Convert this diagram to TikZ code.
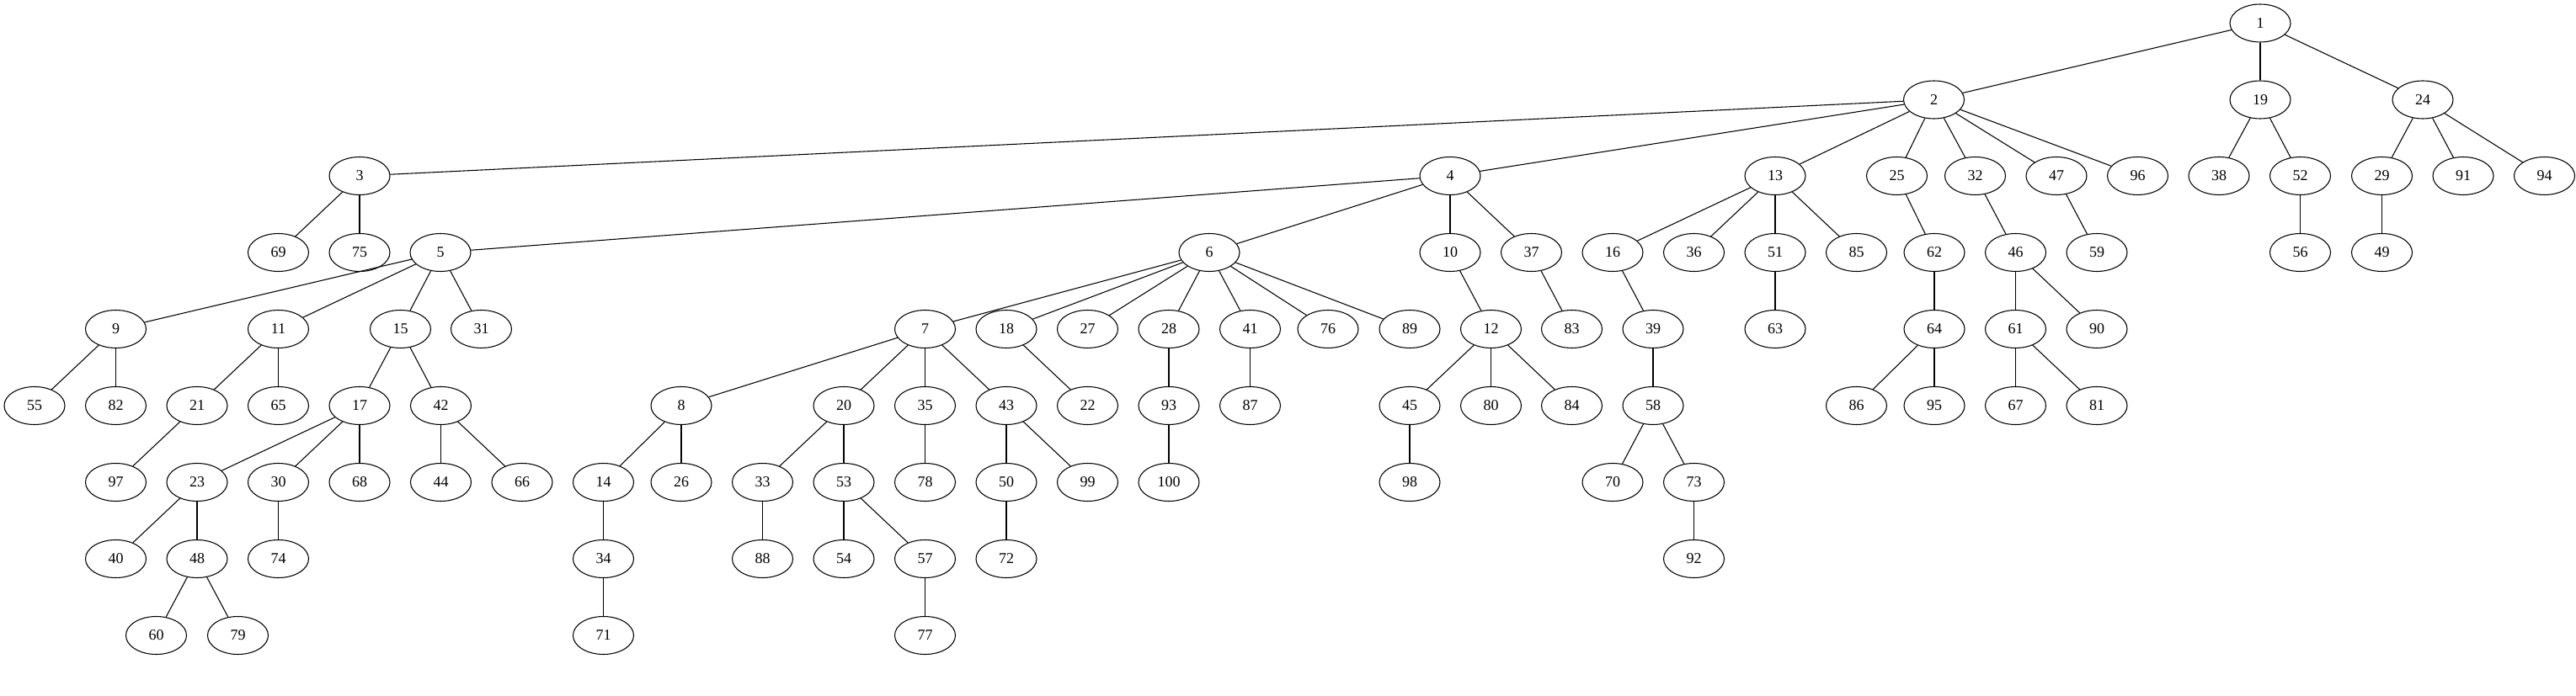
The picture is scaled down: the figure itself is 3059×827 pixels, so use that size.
\documentclass[tikz,border=0pt]{standalone}
\usepackage{fontspec}
\setmainfont{Liberation Serif}
\usetikzlibrary{shapes.geometric}
\begin{document}
\begin{tikzpicture}[x=0.75pt,y=-0.75pt,
  nd/.style={draw,ellipse,line width=0.8pt,minimum width=54pt,minimum height=33.75pt,inner sep=0pt,font=\fontsize{13.5}{16}\selectfont},
  edge/.style={line width=0.8pt}]
\useasboundingbox (0,0) rectangle (3059,827);
\foreach \n/\x/\y in {
 1/2684/27.5,
 2/2296.5/118.5, 19/2684/118.5, 24/2877/118.5,
 3/427/209, 4/1722/209, 13/2108/209, 25/2252.5/209, 32/2345.5/209, 47/2442/209, 96/2538.5/209, 38/2635/209, 52/2731.5/209, 29/2828.5/209, 91/2925/209, 94/3021.5/209,
 69/330.5/300, 75/427/300, 5/523/300, 6/1436/300, 10/1722/300, 37/1818.5/300, 16/1915/300, 36/2011.5/300, 51/2108/300, 85/2204.5/300, 62/2297/300, 46/2393.5/300, 59/2490/300, 56/2731.5/300, 49/2828.5/300,
 9/137.5/391, 11/330.5/391, 15/475.5/391, 31/571.5/391, 7/1098.5/391, 18/1195/391, 27/1291.5/391, 28/1388/391, 41/1484.5/391, 76/1577/391, 89/1674/391, 12/1770.5/391, 83/1866.5/391, 39/1963/391, 63/2108/391, 64/2297/391, 61/2393.5/391, 90/2490/391,
 55/41/482, 82/137.5/482, 21/234/482, 65/330.5/482, 17/427/482, 42/523.5/482, 8/809/482, 20/1002/482, 35/1098.5/482, 43/1195/482, 22/1291.5/482, 93/1388/482, 87/1484.5/482, 45/1674/482, 80/1770.5/482, 84/1866.5/482, 58/1963/482, 86/2204.5/482, 95/2297/482, 67/2393.5/482, 81/2490/482,
 97/137.5/573, 23/234/573, 30/330.5/573, 68/427/573, 44/523.5/573, 66/620/573, 14/716.5/573, 26/809/573, 33/905.5/573, 53/1002/573, 78/1098.5/573, 50/1195/573, 99/1291.5/573, 100/1388/573, 98/1674/573, 70/1915/573, 73/2011.5/573,
 40/137.5/664, 48/234/664, 74/330.5/664, 34/716.5/664, 88/905.5/664, 54/1002/664, 57/1098.5/664, 72/1195/664, 92/2011.5/664,
 60/185.5/755, 79/282.5/755, 71/716.5/755, 77/1098.5/755}
 \node[nd] (n\n) at (\x,\y) {\n};
\foreach \a/\b in {
 1/2, 1/19, 1/24,
 2/3, 2/4, 2/13, 2/25, 2/32, 2/47, 2/96,
 3/69, 3/75,
 4/5, 4/6, 4/10, 4/37,
 5/9, 5/11, 5/15, 5/31,
 6/7, 6/18, 6/27, 6/28, 6/41, 6/76, 6/89,
 7/8, 7/20, 7/35, 7/43,
 8/14, 8/26, 9/55, 9/82, 10/12, 11/21, 11/65,
 12/45, 12/80, 12/84,
 13/16, 13/36, 13/51, 13/85,
 14/34, 15/17, 15/42, 16/39, 17/23, 17/30, 17/68, 18/22,
 19/38, 19/52, 20/33, 20/53, 21/97, 23/40, 23/48,
 24/29, 24/91, 24/94, 25/62, 28/93, 29/49, 30/74, 32/46, 33/88, 34/71, 35/78, 37/83, 39/58, 41/87,
 42/44, 42/66, 43/50, 43/99, 45/98, 46/61, 46/90, 47/59, 48/60, 48/79, 50/72, 51/63, 52/56,
 53/54, 53/57, 57/77, 58/70, 58/73, 61/67, 61/81, 62/64, 64/86, 64/95, 73/92, 93/100}
 \draw[edge] (n\a) -- (n\b);
\end{tikzpicture}
\end{document}
